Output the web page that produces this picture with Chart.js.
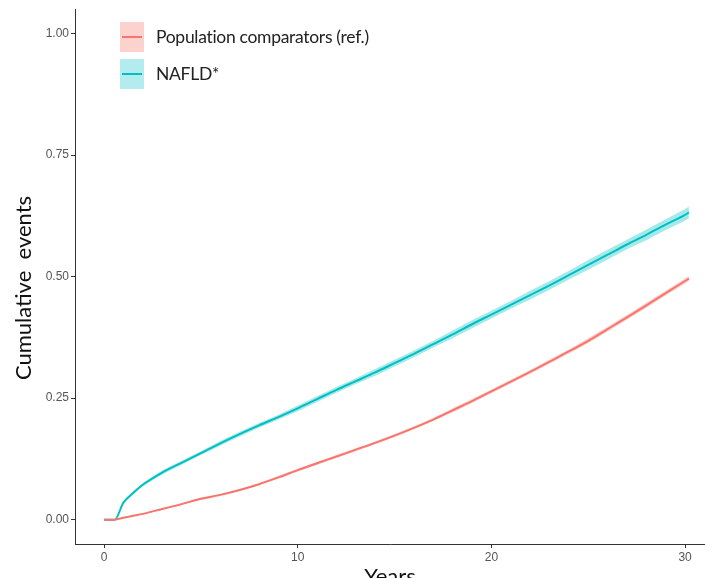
<!DOCTYPE html>
<html>
<head>
<meta charset="utf-8">
<script src="https://cdn.jsdelivr.net/npm/chart.js@4.4.1/dist/chart.umd.min.js"></script>
<style>
  html, body { margin: 0; padding: 0; background: #fff; }
  #wrap { position: relative; width: 705px; height: 578px; overflow: hidden; }
  #legend { position: absolute; left: 120px; top: 18px; font-family: Lato, sans-serif; font-size: 17.5px; letter-spacing: -0.3px; color: #222; }
  .item { display: flex; align-items: center; height: 37px; }
  .key { position: relative; width: 24px; height: 30px; margin-right: 12px; }
  .key i { position: absolute; left: 2px; right: 2px; top: 14px; height: 2px; }
</style>
</head>
<body>
<div id="wrap">
  <canvas id="c" width="705" height="578"></canvas>
  <div id="legend">
    <div class="item"><span class="key" style="background:#fcd2cf"><i style="background:#f8766d"></i></span>Population comparators (ref.)</div>
    <div class="item"><span class="key" style="background:#b3ecee"><i style="background:#00bfc4"></i></span>NAFLD*</div>
  </div>
</div>
<script>
  // follow-up time (years)
  const years = [0, 0.55, 1, 1.5, 2, 3, 4, 5, 6, 7, 8, 9, 10, 11, 12, 13, 14, 15, 16, 17, 18,
    19, 20, 21, 22, 23, 24, 25, 26, 27, 28, 29, 30, 30.2];
  // cumulative events
  const nafld = [0, 0, 0.035, 0.055, 0.072, 0.097, 0.117, 0.137, 0.157, 0.176, 0.194, 0.211, 0.229,
    0.248, 0.267, 0.285, 0.303, 0.322, 0.341, 0.361, 0.381, 0.402, 0.422, 0.442, 0.462, 0.482,
    0.503, 0.524, 0.545, 0.566, 0.586, 0.607, 0.627, 0.632];
  const population = [0, 0, 0.004, 0.008, 0.012, 0.022, 0.032, 0.043, 0.051, 0.061, 0.073, 0.087,
    0.102, 0.116, 0.130, 0.144, 0.158, 0.173, 0.189, 0.206, 0.225, 0.244, 0.264, 0.284, 0.304,
    0.325, 0.346, 0.368, 0.392, 0.416, 0.441, 0.466, 0.491, 0.496];
  // half width of the confidence band
  const nafldBand = [0, 0, 0.002, 0.003, 0.003, 0.004, 0.004, 0.004, 0.005, 0.005, 0.005, 0.005,
    0.006, 0.006, 0.006, 0.006, 0.007, 0.007, 0.007, 0.007, 0.008, 0.008, 0.008, 0.008, 0.009,
    0.009, 0.009, 0.010, 0.010, 0.010, 0.011, 0.011, 0.012, 0.012];
  const populationBand = [0, 0, 0.001, 0.001, 0.001, 0.002, 0.002, 0.002, 0.002, 0.002, 0.002,
    0.003, 0.003, 0.003, 0.003, 0.003, 0.003, 0.003, 0.003, 0.003, 0.004, 0.004, 0.004, 0.004,
    0.004, 0.004, 0.004, 0.005, 0.005, 0.005, 0.005, 0.005, 0.005, 0.005];
  const xTicks = [0, 10, 20, 30];
  const yTicks = [0, 0.25, 0.5, 0.75, 1];

  const RED = "#f8766d", TEAL = "#00bfc4";
  const pts = (vals, band, sign) => years.map((x, i) => ({ x, y: vals[i] + sign * (band ? band[i] : 0) }));

  const ribbon = (vals, band, fillCol) => [
    { data: pts(vals, band, 1), borderWidth: 0, pointRadius: 0, fill: false },
    { data: pts(vals, band, -1), borderWidth: 0, pointRadius: 0, fill: "-1", backgroundColor: fillCol },
  ];
  const line = (vals, col) => ({
    data: pts(vals, null, 0), borderColor: col, borderWidth: 2,
    pointRadius: 0, fill: false, tension: 0.3, cubicInterpolationMode: "monotone",
  });

  const TICK_FONT = { family: "'Liberation Sans Narrow', 'Liberation Sans', sans-serif", size: 12 };
  const TITLE_FONT = { family: "Lato, sans-serif", size: 22 };

  // y title sits a little below the middle of the panel in the original
  const yTitle = {
    id: "yTitle",
    afterDraw(chart) {
      const ctx = chart.ctx;
      ctx.save();
      ctx.translate(24, 288);
      ctx.rotate(-Math.PI / 2);
      ctx.font = `${TITLE_FONT.size}px ${TITLE_FONT.family}`;
      ctx.fillStyle = "#111";
      ctx.textAlign = "center";
      ctx.textBaseline = "middle";
      ctx.fillText("Cumulative  events", 0, 0);
      ctx.restore();
    },
  };

  new Chart(document.getElementById("c"), {
    type: "line",
    data: {
      datasets: [
        ...ribbon(population, populationBand, "rgba(248,118,109,0.35)"),
        ...ribbon(nafld, nafldBand, "rgba(0,191,196,0.35)"),
        line(population, RED),
        line(nafld, TEAL),
      ],
    },
    options: {
      responsive: false, animation: false,
      layout: { padding: { top: 8, right: 0, left: 0, bottom: 0 } },
      plugins: { legend: { display: false }, tooltip: { enabled: false } },
      scales: {
        x: {
          type: "linear", min: -1.5, max: 31.03,
          afterBuildTicks: (s) => { s.ticks = xTicks.map((v) => ({ value: v })); },
          afterFit: (s) => { s.height = 34; },
          grid: { drawOnChartArea: false, tickLength: 4, color: "#333" },
          border: { color: "#333", width: 1 },
          ticks: { font: TICK_FONT, color: "#555", padding: 2, maxRotation: 0 },
          title: { display: true, text: "Years", font: TITLE_FONT, color: "#111", padding: { top: 0, bottom: -12 } },
        },
        y: {
          min: -0.05, max: 1.05,
          afterBuildTicks: (s) => { s.ticks = yTicks.map((v) => ({ value: v })); },
          afterFit: (s) => { s.width = 75; },
          grid: { drawOnChartArea: false, tickLength: 4, color: "#333" },
          border: { color: "#333", width: 1 },
          ticks: { font: TICK_FONT, color: "#555", padding: 2, callback: (v) => v.toFixed(2) },
        },
      },
    },
    plugins: [yTitle],
  });
</script>
</body>
</html>
